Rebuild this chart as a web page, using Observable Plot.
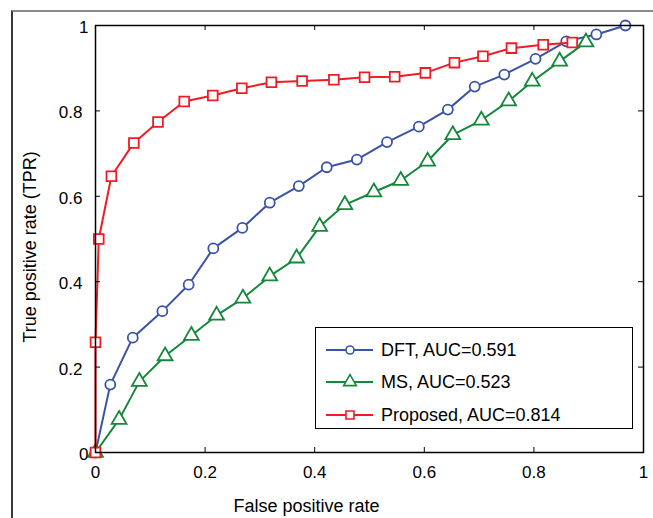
<!DOCTYPE html>
<html>
<head>
<meta charset="utf-8">
<script src="https://cdn.jsdelivr.net/npm/d3@7"></script>
<script src="https://cdn.jsdelivr.net/npm/@observablehq/plot@0.6"></script>
<style>
  html, body { margin: 0; padding: 0; background: #fff; }
  #wrap { position: relative; width: 653px; height: 518px; overflow: hidden; font-family: "Liberation Sans", Arial, sans-serif; }
  #border { position: absolute; left: 11px; top: 10px; width: 660px; height: 520px; border-top: 2px solid #8a8a8a; border-left: 2px solid #3a3a3a; box-sizing: border-box; }
  #legend { position: absolute; left: 315px; top: 327px; width: 318px; height: 102px; border: 1.5px solid #000; background: #fff; box-sizing: border-box; }
  svg { display: block; }
</style>
</head>
<body>
<div id="wrap"><div id="border"></div></div>
<script>
// ---- data ----
const seriesNames = ["DFT, AUC=0.591", "MS, AUC=0.523", "Proposed, AUC=0.814"];
const seriesColors = ["#3a53a4", "#15873b", "#ee1c25"];
const seriesSymbols = ["circle", "triangle", "square"];

const dftX = [0, 0.027, 0.068, 0.122, 0.170, 0.215, 0.268, 0.318, 0.371, 0.422, 0.477, 0.532, 0.590, 0.643, 0.692, 0.746, 0.803, 0.859, 0.914, 0.967];
const dftY = [0, 0.159, 0.269, 0.331, 0.393, 0.478, 0.526, 0.585, 0.624, 0.668, 0.686, 0.727, 0.763, 0.803, 0.857, 0.885, 0.922, 0.963, 0.979, 1.0];

const msX = [0, 0.043, 0.080, 0.127, 0.175, 0.221, 0.269, 0.318, 0.367, 0.409, 0.455, 0.508, 0.557, 0.606, 0.652, 0.704, 0.754, 0.797, 0.847, 0.895];
const msY = [0, 0.077, 0.166, 0.226, 0.274, 0.321, 0.361, 0.413, 0.455, 0.529, 0.580, 0.610, 0.637, 0.682, 0.744, 0.778, 0.823, 0.869, 0.916, 0.961];

const propX = [0, 0, 0.006, 0.029, 0.070, 0.114, 0.162, 0.214, 0.267, 0.321, 0.377, 0.435, 0.491, 0.546, 0.602, 0.655, 0.707, 0.759, 0.817, 0.870];
const propY = [0, 0.258, 0.500, 0.647, 0.725, 0.774, 0.822, 0.836, 0.853, 0.867, 0.870, 0.873, 0.879, 0.880, 0.889, 0.913, 0.928, 0.947, 0.955, 0.960];

const xTicks = [0, 0.2, 0.4, 0.6, 0.8, 1];
const yTicksEnds = [0, 1];
const yTicksMid = [0.2, 0.4, 0.6, 0.8];
const xLabel = "False positive rate";
const yLabel = "True positive rate (TPR)";

// ---- build ----
const toRows = (xs, ys) => xs.map((x, i) => ({x, y: ys[i]}));
const series = [toRows(dftX, dftY), toRows(msX, msY), toRows(propX, propY)];
const fmt = d => String(d);

const W = 653, H = 518;
const mL = 95, mR = 10, mT = 25, mB = 66;
const pw = W - mL - mR, ph = H - mT - mB;
const font = "Liberation Sans, Arial, sans-serif";

const marks = [];
series.forEach((rows, i) => {
  marks.push(Plot.line(rows, {x: "x", y: "y", stroke: seriesColors[i], strokeWidth: 2}));
  marks.push(Plot.dot(rows, {x: "x", y: "y", symbol: () => seriesSymbols[i], r: i === 0 ? 5 : 5.5, stroke: seriesColors[i], strokeWidth: 1.8, fill: "white"}));
});

marks.push(
  Plot.frame({stroke: "black", strokeWidth: 1.5}),
  Plot.tickX(xTicks, {x: d => d, insetTop: ph - 5, stroke: "black"}),
  Plot.tickX(xTicks, {x: d => d, insetBottom: ph - 5, stroke: "black"}),
  Plot.tickY(yTicksEnds.concat(yTicksMid), {y: d => d, insetRight: pw - 5, stroke: "black"}),
  Plot.tickY(yTicksEnds.concat(yTicksMid), {y: d => d, insetLeft: pw - 5, stroke: "black"}),
  Plot.axisX(xTicks, {tickSize: 0, tickPadding: 13, tickFormat: fmt, fontSize: 17, label: null}),
  Plot.axisY(yTicksEnds, {tickSize: 0, tickPadding: 7, tickFormat: fmt, fontSize: 17, dy: 2, label: null}),
  Plot.axisY(yTicksMid, {tickSize: 0, tickPadding: 13, tickFormat: fmt, fontSize: 17, dy: 2, label: null}),
  Plot.text([xLabel], {frameAnchor: "bottom", text: d => d, textAnchor: "middle", dx: -63, dy: 59, fontSize: 18, fill: "black"}),
  Plot.text([yLabel], {frameAnchor: "left", text: d => d, textAnchor: "middle", lineAnchor: "middle", rotate: -90, dx: -65, dy: 8, fontSize: 18, fill: "black"})
);

const chart = Plot.plot({
  width: W, height: H,
  marginLeft: mL, marginRight: mR, marginTop: mT, marginBottom: mB,
  x: {domain: [0, 1], axis: null},
  y: {domain: [0, 1], axis: null},
  style: {fontFamily: font, fontSize: "17px", color: "black", background: "transparent"},
  marks
});
const wrap = document.getElementById("wrap");
wrap.insertBefore(chart, wrap.firstChild);

// ---- legend ----
const leg = document.createElement("div");
leg.id = "legend";
wrap.appendChild(leg);
const lsvg = d3.select(leg).append("svg").attr("width", 316).attr("height", 100)
  .style("position", "absolute").style("left", "0px").style("top", "0px");
const rowY = [22, 54, 87];
const symMap = {circle: d3.symbolCircle, triangle: d3.symbolTriangle, square: d3.symbolSquare};
const symSize = {circle: 50, triangle: 70, square: 64};
seriesNames.forEach((name, i) => {
  const g = lsvg.append("g").attr("transform", `translate(0,${rowY[i]})`);
  g.append("line").attr("x1", 10).attr("x2", 57).attr("y1", 0).attr("y2", 0)
    .attr("stroke", seriesColors[i]).attr("stroke-width", 1.8);
  g.append("path").attr("d", d3.symbol(symMap[seriesSymbols[i]], symSize[seriesSymbols[i]])())
    .attr("transform", "translate(34,0)")
    .attr("fill", "white").attr("stroke", seriesColors[i]).attr("stroke-width", 1.6);
  g.append("text").attr("x", 65).attr("y", 0).attr("dy", "0.35em")
    .attr("font-family", font).attr("font-size", 18).attr("fill", "black").text(name);
});
</script>
</body>
</html>
